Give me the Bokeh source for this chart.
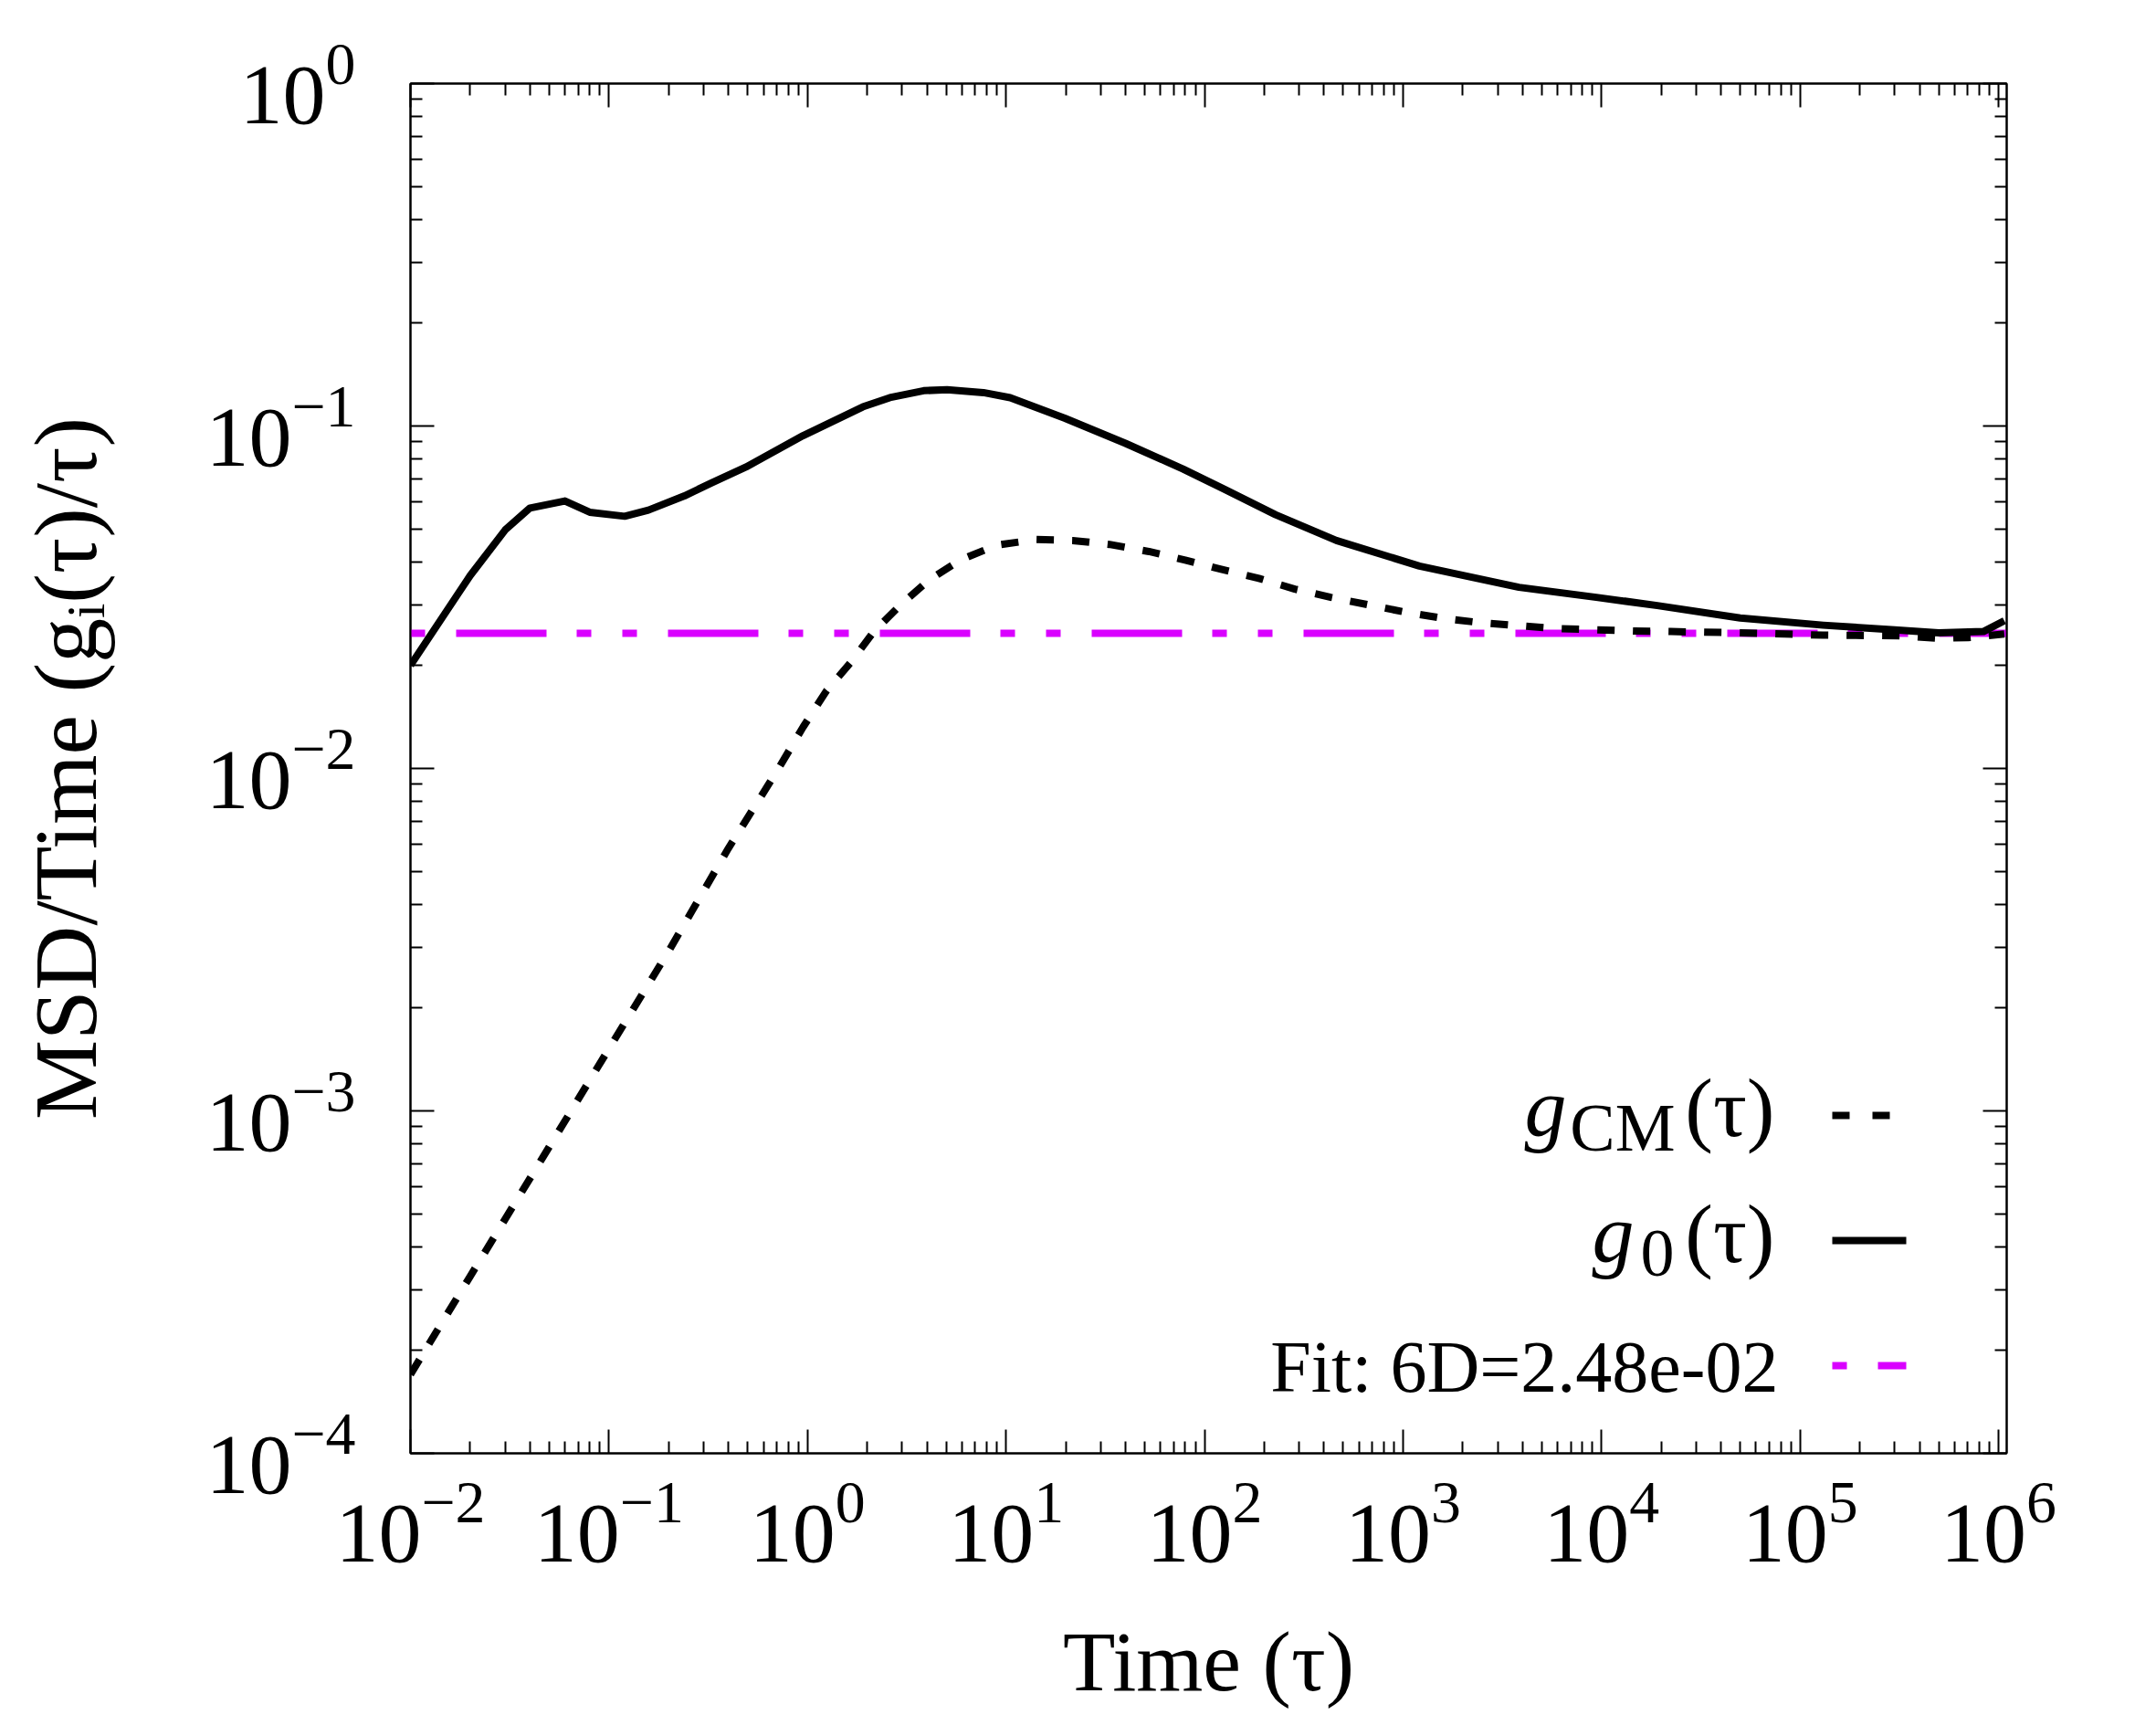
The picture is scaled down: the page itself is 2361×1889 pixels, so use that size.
from bokeh.plotting import figure
from bokeh.models import Range1d, FixedTicker, LogAxis, Label, Arrow
from bokeh.embed import file_html
from bokeh.resources import INLINE

# ---- data ----
t_g0 = [0.01, 0.02, 0.03, 0.04, 0.06, 0.08, 0.12, 0.158, 0.24, 0.33, 0.49, 0.95,
        1.9, 2.6, 3.85, 5.05, 7.7, 10.5, 19.8, 40, 78, 125, 228, 462, 1210, 3840,
        9420, 19100, 50000, 131000, 300000, 500000, 840000, 1070000]
g0 = [0.0200, 0.0366, 0.0497, 0.0576, 0.0604, 0.0560, 0.0545, 0.0568, 0.0625, 0.0683,
      0.0759, 0.0937, 0.1137, 0.121, 0.1268, 0.1277, 0.1252, 0.121, 0.1054, 0.089,
      0.0749, 0.0655, 0.0551, 0.0463, 0.0390, 0.0338, 0.0316, 0.0299, 0.0275, 0.0262,
      0.0254, 0.0249, 0.0251, 0.0270]

t_cm = [0.01, 0.02, 0.05, 0.1, 0.2, 0.4, 0.7, 0.95, 1.25, 1.64, 2.16, 2.92, 4.09, 5.88,
        9.0, 14.2, 21.7, 33.2, 52.5, 80, 120, 188, 285, 433, 680, 1030, 1615, 2525,
        3840, 6000, 9400, 14750, 22400, 50000, 83600, 131000, 320000, 500000, 700000,
        1070000]
g_cm = [1.70e-4, 3.29e-4, 7.85e-4, 1.52e-3, 2.93e-3, 5.85e-3, 9.8e-3, 0.0132, 0.0169,
        0.0203, 0.0251, 0.0299, 0.0355, 0.0406, 0.0449, 0.0466, 0.0463, 0.0451, 0.0430,
        0.0406, 0.0382, 0.0359, 0.0334, 0.0316, 0.0300, 0.0286, 0.0274, 0.0266, 0.0261,
        0.0256, 0.0254, 0.0252, 0.0251, 0.0249, 0.0247, 0.0245, 0.0244, 0.0240, 0.0241,
        0.0247]

fit_value = 2.48e-2
fit_t = [0.01, 1.1e6]
fit_g = [fit_value, fit_value]

x_major = [1e-2, 1e-1, 1e0, 1e1, 1e2, 1e3, 1e4, 1e5, 1e6]
y_major = [1e-4, 1e-3, 1e-2, 1e-1, 1e0]

x_title = "Time (τ)"
y_title = "MSD/Time (gᵢ(τ)/τ)"
fit_label = "Fit:  6D=2.48e-02"

FONT = "Liberation Serif"
MAGENTA = "#d900ff"

def minors(majors):
    out = []
    for m in majors:
        for k in range(2, 10):
            out.append(m * k)
    return out

W, H = 2345, 1873
L, T, FW, FH = 449, 91, 1748, 1505

p = figure(width=W, height=H, x_axis_type="log", y_axis_type="log",
           x_range=Range1d(1e-2, 1.1e6), y_range=Range1d(1e-4, 1.0),
           output_backend="svg", toolbar_location=None,
           min_border_left=L, min_border_top=T,
           min_border_right=W - L - FW, min_border_bottom=H - T - FH)
p.xgrid.visible = False
p.ygrid.visible = False
p.outline_line_color = "black"
p.outline_line_width = 2
p.background_fill_color = "white"
p.border_fill_color = "white"

def style(ax, labels=True):
    ax.axis_line_color = "black"
    ax.axis_line_width = 2
    ax.major_tick_in = 26
    ax.major_tick_out = 0
    ax.minor_tick_in = 13
    ax.minor_tick_out = 0
    ax.major_tick_line_width = 2
    ax.minor_tick_line_width = 2
    ax.major_tick_line_color = "black"
    ax.minor_tick_line_color = "black"
    if labels:
        ax.major_label_text_font = FONT
        ax.major_label_text_font_size = "94px"
        ax.major_label_text_color = "black"
        ax.axis_label_text_font = FONT
        ax.axis_label_text_font_size = "94px"
        ax.axis_label_text_font_style = "normal"
        ax.axis_label_text_color = "black"
    else:
        ax.major_label_text_font_size = "1px"
        ax.major_label_text_alpha = 0

xa = p.xaxis[0]
ya = p.yaxis[0]
xa.ticker = FixedTicker(ticks=x_major, minor_ticks=minors(x_major[:-1]))
ya.ticker = FixedTicker(ticks=y_major, minor_ticks=minors(y_major[:-1]))
style(xa)
style(ya)
ya.axis_label_text_font_size = "98px"
xa.axis_label = x_title
ya.axis_label = y_title
xa.major_label_standoff = 32
ya.major_label_standoff = 60
xa.axis_label_standoff = 54
ya.axis_label_standoff = 96

top = LogAxis(ticker=FixedTicker(ticks=x_major, minor_ticks=minors(x_major[:-1])))
right = LogAxis(ticker=FixedTicker(ticks=y_major, minor_ticks=minors(y_major[:-1])))
style(top, labels=False)
style(right, labels=False)
p.add_layout(top, "above")
p.add_layout(right, "right")

# curves
p.line(fit_t, fit_g, line_color=MAGENTA, line_width=8,
       line_dash="99 33 16 34 16 34", line_dash_offset=182)
p.line(t_cm, g_cm, line_color="black", line_width=8, line_dash="19 20", line_join="round")
p.line(t_g0, g0, line_color="black", line_width=8, line_join="round")

# legend (gnuplot style: text left, sample right)
SX0, SX1 = 1557, 1638
rows = {"cm": 370, "g0": 233, "fit": 96}
p.add_layout(Arrow(end=None, x_start=SX0, y_start=rows["cm"], x_end=SX1, y_end=rows["cm"],
                   start_units="screen", end_units="screen", line_color="black",
                   line_width=8, line_dash="19 25"))
p.add_layout(Arrow(end=None, x_start=SX0, y_start=rows["g0"], x_end=SX1, y_end=rows["g0"],
                   start_units="screen", end_units="screen", line_color="black",
                   line_width=8))
p.add_layout(Arrow(end=None, x_start=SX0, y_start=rows["fit"], x_end=SX1, y_end=rows["fit"],
                   start_units="screen", end_units="screen", line_color=MAGENTA,
                   line_width=8, line_dash="99 33 16 34 16 34", line_dash_offset=182))

def lab(x, y, text, size, style="normal", align="left", baseline="alphabetic"):
    p.add_layout(Label(x=x, y=y, x_units="screen", y_units="screen", text=text,
                       text_font=FONT, text_font_size=size, text_font_style=style,
                       text_color="black", text_align=align, text_baseline=baseline))

lab(1266, 379, "g", "92px", "italic", align="right")
lab(1385, 357, "CM", "74px", align="right")
lab(1494, 379, "(τ)", "92px", align="right")
lab(1340, 241, "g", "92px", "italic", align="right")
lab(1384, 219, "0", "74px", align="right")
lab(1494, 241, "(τ)", "92px", align="right")
lab(1518, 95, fit_label, "80px", align="right")

open("out.html", "w").write(file_html(p, INLINE))
